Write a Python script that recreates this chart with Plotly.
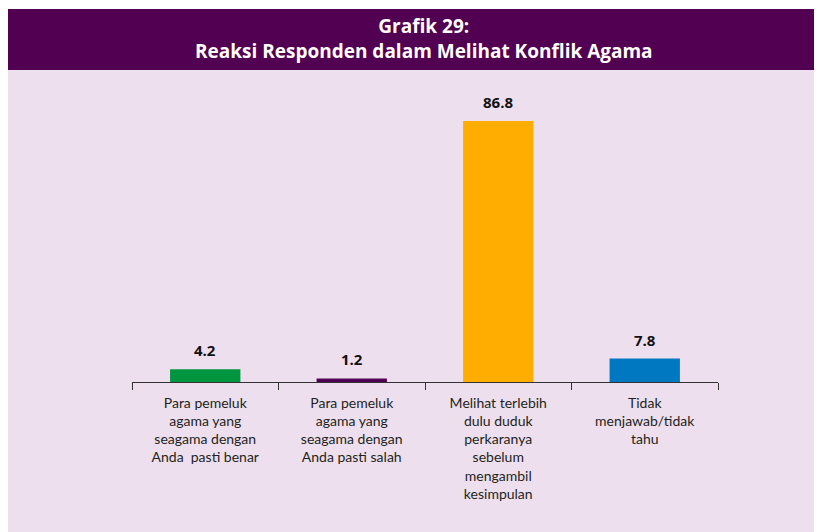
import plotly.graph_objects as go

# data
categories = [
    "Para pemeluk<br>agama yang<br>seagama dengan<br>Anda  pasti benar",
    "Para pemeluk<br>agama yang<br>seagama dengan<br>Anda pasti salah",
    "Melihat terlebih<br>dulu duduk<br>perkaranya<br>sebelum<br>mengambil<br>kesimpulan",
    "Tidak<br>menjawab/tidak<br>tahu",
]
values = [4.2, 1.2, 86.8, 7.8]
value_labels = ["4.2", "1.2", "86.8", "7.8"]
bar_colors = ["#00963F", "#4F0054", "#FFAE00", "#0078C1"]

# page has an 8px body margin, so the figure is 8px smaller than the window
OFF = 8
W, H = 822 - OFF, 532 - OFF
L, R, T, B = 132 - OFF, 822 - 718, 100 - OFF, 532 - 382
pw, ph = W - L - R, H - T - B

def px_x(x):
    return (x - OFF - L) / pw

def px_y(y):
    return (H - B - (y - OFF)) / ph

fig = go.Figure()
fig.add_trace(go.Bar(
    x=categories, y=values,
    marker=dict(color=bar_colors, line=dict(width=0)),
    width=0.48,
    hoverinfo="x+y",
))

fig.update_layout(
    width=W, height=H,
    margin=dict(l=L, r=R, t=T, b=B),
    paper_bgcolor="#EEDFEE",
    plot_bgcolor="rgba(0,0,0,0)",
    showlegend=False,
    xaxis=dict(
        showline=True, linecolor="#333333", linewidth=1,
        ticks="outside", tickson="boundaries", ticklen=7, tickcolor="#333333",
        tickfont=dict(family="Lato", size=14, color="#231F20"),
        ticklabelstandoff=8,
        showgrid=False,
    ),
    yaxis=dict(range=[0, 86.8 * ph / 261], visible=False, showgrid=False),
    shapes=[
        dict(type="rect", xref="paper", yref="paper", layer="below",
             x0=px_x(0), x1=px_x(840), y0=px_y(9), y1=px_y(-5),
             fillcolor="white", line=dict(width=0)),
        dict(type="rect", xref="paper", yref="paper", layer="below",
             x0=px_x(7), x1=px_x(840), y0=px_y(70), y1=px_y(9),
             fillcolor="#520052", line=dict(width=0)),
    ],
)

# title in the purple band
fig.add_annotation(text="Grafik 29:<br>Reaksi Responden dalam Melihat Konflik Agama",
                   xref="paper", yref="paper", x=px_x(424), y=px_y(39),
                   xanchor="center", yanchor="middle", showarrow=False,
                   font=dict(family="Open Sans", size=19, color="white", weight="bold"))

# value labels above bars
for c, v, t in zip(categories, values, value_labels):
    fig.add_annotation(x=c, y=v, text=t, showarrow=False,
                       yanchor="bottom", yshift=7,
                       font=dict(family="Open Sans", size=15, color="#111111", weight="bold"))

fig.write_html("out.html")
